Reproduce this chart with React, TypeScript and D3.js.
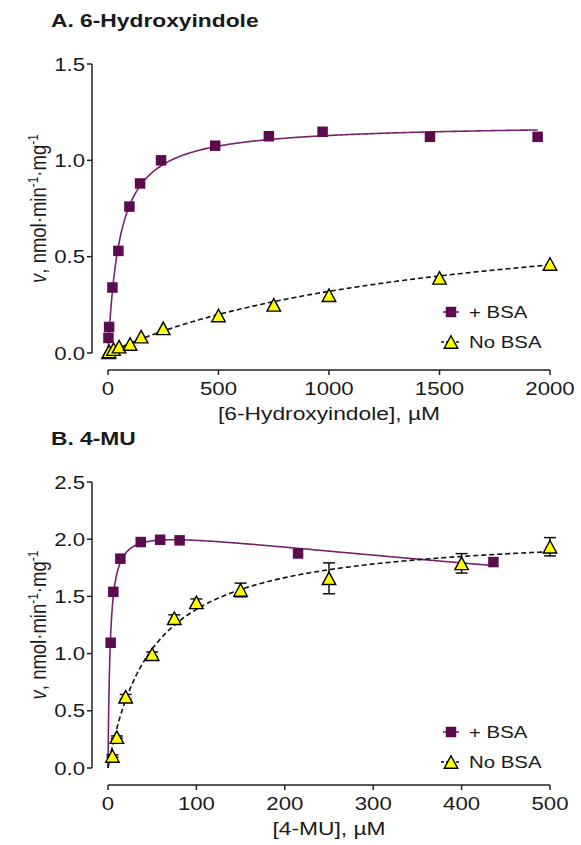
import React from 'react';
import * as d3 from 'd3';

// ---------- Data ----------
// Panel A: 6-Hydroxyindole
const hxBsaX = [2, 5, 20, 47, 97, 145, 240, 485, 728, 971, 1457, 1944];
const hxBsaY = [0.078, 0.135, 0.34, 0.53, 0.76, 0.88, 1.0, 1.076, 1.125, 1.148, 1.122, 1.122];
const hxNoX = [2.5, 5, 25, 50, 100, 150, 250, 500, 750, 1000, 1500, 2000];
const hxNoY = [0.003, 0.008, 0.02, 0.033, 0.047, 0.085, 0.128, 0.195, 0.25, 0.3, 0.39, 0.462];
// Panel B: 4-MU
const muBsaX = [3, 6, 14, 37, 59, 81, 215, 436];
const muBsaY = [1.095, 1.54, 1.83, 1.975, 1.995, 1.99, 1.875, 1.8];
const muNoX = [5, 10, 20, 50, 75, 100, 150, 250, 400, 500];
const muNoY = [0.105, 0.27, 0.623, 0.994, 1.309, 1.448, 1.556, 1.658, 1.789, 1.934];
const muNoErr = [0.01, 0.01, 0.02, 0.02, 0.03, 0.03, 0.06, 0.135, 0.085, 0.08];

// Fitted model parameters (Michaelis-Menten / substrate inhibition)
const hxBsaFit = { vmax: 1.19, km: 54 };
const hxNoFit = { vmax: 0.8, km: 1500 };
const muBsaFit = { vmax: 2.13, km: 2.5, ki: 2200 };
const muNoFit = { vmax: 2.08, km: 50 };

// Ticks
const hxXTicks = [0, 500, 1000, 1500, 2000];
const hxYTicks = [0, 0.5, 1.0, 1.5];
const muXTicks = [0, 100, 200, 300, 400, 500];
const muYTicks = [0, 0.5, 1.0, 1.5, 2.0, 2.5];

const legendLabels = ['+ BSA', 'No BSA'];

// ---------- Styles ----------
const PURPLE = '#5c0b4e';
const PURPLE_LINE = '#7a216c';
const YELLOW = '#ffff00';
const FONT = 'Liberation Sans, Arial, Helvetica, sans-serif';
const SX = 1.2;

const mm = (p: { vmax: number; km: number }) => (s: number) => (p.vmax * s) / (p.km + s);
const si = (p: { vmax: number; km: number; ki: number }) => (s: number) =>
  (p.vmax * s) / (p.km + s * (1 + s / p.ki));

function samples(max: number): number[] {
  const a = d3.range(0, Math.min(20, max), 0.1);
  const b = d3.range(20, max, max / 400);
  return [...a, ...b, max];
}

type TProps = {
  x: number; y: number; size: number; anchor?: string; weight?: string | number;
  rotate?: boolean; children?: React.ReactNode;
};
const T = ({ x, y, size, anchor = 'start', weight = 'normal', rotate, children }: TProps) => (
  <text
    transform={`translate(${x},${y}) scale(${SX},1)${rotate ? ' rotate(-90)' : ''}`}
    fontSize={size}
    fontFamily={FONT}
    fontWeight={weight as any}
    textAnchor={anchor}
    fill="#1a1a1a"
  >
    {children}
  </text>
);

const Square = ({ cx, cy, s = 10.5 }: { cx: number; cy: number; s?: number }) => (
  <rect x={cx - s / 2} y={cy - s / 2} width={s} height={s} fill={PURPLE} />
);
const Tri = ({ cx, cy, w = 13.5, h = 12.5 }: { cx: number; cy: number; w?: number; h?: number }) => (
  <path
    d={`M${cx},${cy - h / 2} L${cx + w / 2},${cy + h / 2} L${cx - w / 2},${cy + h / 2} Z`}
    fill={YELLOW}
    stroke="#000"
    strokeWidth={1.4}
    strokeLinejoin="miter"
  />
);

type PanelProps = {
  title: string;
  titleY: number;
  xDomain: [number, number];
  yDomain: [number, number];
  yRange: [number, number];
  xAxisY: number;
  xTicks: number[];
  yTicks: number[];
  xLabel: string;
  bsaX: number[]; bsaY: number[];
  noX: number[]; noY: number[]; noErr?: number[];
  bsaCurve: (s: number) => number;
  noCurve: (s: number) => number;
  legendY: number;
};

const Panel = (p: PanelProps) => {
  const x = d3.scaleLinear().domain(p.xDomain).range([108, 550]);
  const y = d3.scaleLinear().domain(p.yDomain).range(p.yRange);
  const yAxisX = 92;
  const line = d3.line<[number, number]>().x(d => x(d[0])).y(d => y(d[1]));
  const bsaMax = d3.max(p.bsaX) as number;
  const noMax = d3.max(p.noX) as number;
  const bsaPts = samples(bsaMax).map(s => [s, p.bsaCurve(s)] as [number, number]);
  const noPts = samples(noMax).map(s => [s, p.noCurve(s)] as [number, number]);
  const yMid = (p.yRange[0] + p.yRange[1]) / 2;
  const lx = 451;
  return (
    <g>
      <T x={51} y={p.titleY} size={19} weight="bold">{p.title}</T>
      {/* y axis */}
      <line x1={yAxisX} x2={yAxisX} y1={y(p.yDomain[0])} y2={y(p.yDomain[1])} stroke="#222" strokeWidth={1.5} />
      {p.yTicks.map(t => (
        <g key={t}>
          <line x1={yAxisX - 5} x2={yAxisX} y1={y(t)} y2={y(t)} stroke="#222" strokeWidth={1.5} />
          <T x={yAxisX - 7} y={y(t) + 6.5} size={18.5} anchor="end">{d3.format('.1f')(t)}</T>
        </g>
      ))}
      {/* x axis */}
      <line x1={x(p.xDomain[0])} x2={x(p.xDomain[1])} y1={p.xAxisY} y2={p.xAxisY} stroke="#222" strokeWidth={1.5} />
      {p.xTicks.map(t => (
        <g key={t}>
          <line x1={x(t)} x2={x(t)} y1={p.xAxisY} y2={p.xAxisY + 5} stroke="#222" strokeWidth={1.5} />
          <T x={x(t)} y={p.xAxisY + 25} size={18.5} anchor="middle">{String(t)}</T>
        </g>
      ))}
      <T x={329} y={p.xAxisY + 50} size={19} anchor="middle">{p.xLabel}</T>
      <T x={46} y={yMid} size={18.5} anchor="middle" rotate>
        <tspan fontStyle="italic">v</tspan>
        <tspan>, nmol·min</tspan>
        <tspan fontSize={12} dy={-7}>-1</tspan>
        <tspan dy={7}>·mg</tspan>
        <tspan fontSize={12} dy={-7}>-1</tspan>
      </T>
      {/* curves */}
      <path d={line(bsaPts) || ''} fill="none" stroke={PURPLE_LINE} strokeWidth={1.6} />
      <path d={line(noPts) || ''} fill="none" stroke="#111" strokeWidth={1.6} strokeDasharray="5,3" />
      {/* markers */}
      {p.bsaX.map((v, i) => <Square key={'s' + i} cx={x(v)} cy={y(p.bsaY[i])} />)}
      {p.noErr && p.noX.map((v, i) => {
        const e = p.noErr![i];
        const y1 = y(p.noY[i] - e), y2 = y(p.noY[i] + e);
        return (
          <g key={'e' + i} stroke="#111" strokeWidth={1.5}>
            <line x1={x(v)} x2={x(v)} y1={y1} y2={y2} />
            <line x1={x(v) - 6} x2={x(v) + 6} y1={y1} y2={y1} />
            <line x1={x(v) - 6} x2={x(v) + 6} y1={y2} y2={y2} />
          </g>
        );
      })}
      {p.noX.map((v, i) => <Tri key={'t' + i} cx={x(v)} cy={y(p.noY[i])} />)}
      {/* legend */}
      <line x1={lx - 8} x2={lx + 8} y1={p.legendY} y2={p.legendY} stroke={PURPLE_LINE} strokeWidth={1.6} />
      <Square cx={lx} cy={p.legendY} />
      <T x={lx + 18} y={p.legendY + 6} size={17}>{legendLabels[0]}</T>
      <line x1={lx - 10} x2={lx + 10} y1={p.legendY + 30} y2={p.legendY + 30} stroke="#111" strokeWidth={1.4} strokeDasharray="3,2" />
      <Tri cx={lx} cy={p.legendY + 30} />
      <T x={lx + 18} y={p.legendY + 36} size={17}>{legendLabels[1]}</T>
    </g>
  );
};

export default function App() {
  return (
    <svg
      width={581}
      height={845}
      viewBox="0 0 581 845"
      style={{ position: 'absolute', left: 0, top: 0, background: '#fff' }}
    >
      <rect width={581} height={845} fill="#fff" />
      <Panel
        title="A. 6-Hydroxyindole"
        titleY={27}
        xDomain={[0, 2000]}
        yDomain={[0, 1.5]}
        yRange={[353, 64]}
        xAxisY={370}
        xTicks={hxXTicks}
        yTicks={hxYTicks}
        xLabel="[6-Hydroxyindole], µM"
        bsaX={hxBsaX} bsaY={hxBsaY}
        noX={hxNoX} noY={hxNoY}
        bsaCurve={mm(hxBsaFit)}
        noCurve={mm(hxNoFit)}
        legendY={312}
      />
      <Panel
        title="B. 4-MU"
        titleY={445}
        xDomain={[0, 500]}
        yDomain={[0, 2.5]}
        yRange={[768, 482]}
        xAxisY={785}
        xTicks={muXTicks}
        yTicks={muYTicks}
        xLabel="[4-MU], µM"
        bsaX={muBsaX} bsaY={muBsaY}
        noX={muNoX} noY={muNoY} noErr={muNoErr}
        bsaCurve={si(muBsaFit)}
        noCurve={mm(muNoFit)}
        legendY={732}
      />
    </svg>
  );
}
